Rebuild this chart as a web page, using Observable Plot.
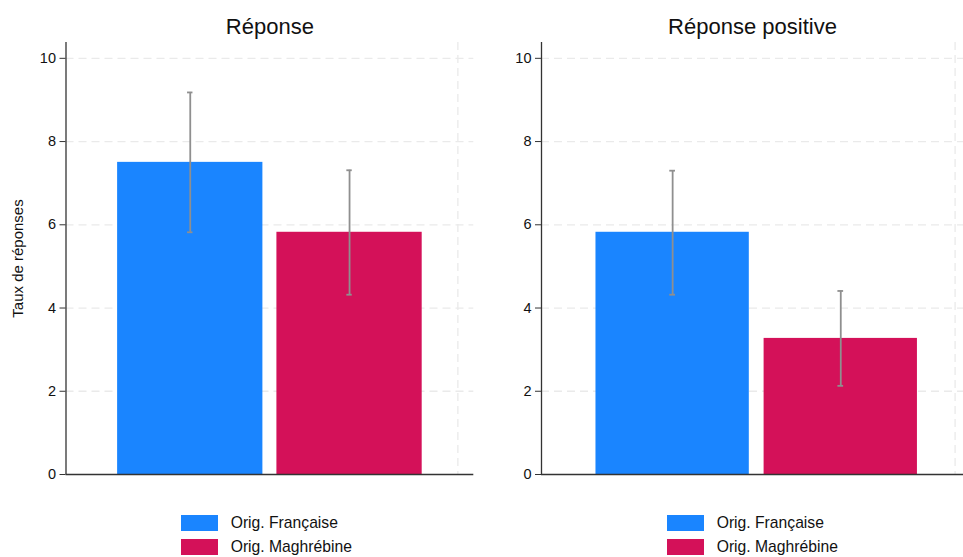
<!DOCTYPE html>
<html><head><meta charset="utf-8">
<script src="https://cdn.jsdelivr.net/npm/d3@7"></script>
<script src="https://cdn.jsdelivr.net/npm/@observablehq/plot@0.6"></script>
<style>
body{margin:0;background:#fff;font-family:"Liberation Sans",Arial,Helvetica,sans-serif;}
#wrap{position:relative;width:963px;height:557px;overflow:hidden;background:#fff;}
.panel{position:absolute;top:0;}
.legend{position:absolute;top:515px;font-size:15.7px;color:#111;}
.row{display:flex;align-items:center;height:15.7px;margin-bottom:8.8px;}
.sw{width:37px;height:15.7px;margin-right:12.7px;}
</style></head><body><div id="wrap"></div>
<script>
// ---- data ----
const panelTitles = ["Réponse", "Réponse positive"];
const groups = ["Orig. Française", "Orig. Maghrébine"];
const colors = ["#1A85FF", "#D41159"];
const meanReponse = [7.50, 5.82];
const lowReponse = [5.82, 4.32];
const highReponse = [9.18, 7.31];
const meanPositive = [5.82, 3.27];
const lowPositive = [4.32, 2.13];
const highPositive = [7.30, 4.41];
const yTicks = [0, 2, 4, 6, 8, 10];
const xGridTicks = [2.68];
const yLabel = "Taux de réponses";

const seriesByPanel = [
  {mean: meanReponse, low: lowReponse, high: highReponse},
  {mean: meanPositive, low: lowPositive, high: highPositive}
];
const layout = [
  {left: 0, width: 480, marginLeft: 65.5, marginRight: 6.7, xDomain: [0.22, 2.78], legendLeft: 181},
  {left: 480, width: 483, marginLeft: 61, marginRight: 0, xDomain: [0.22, 2.73], legendLeft: 667}
];
const yDomain = [0, 10.38];
const halfBar = 0.456, halfCap = 0.017;
const gridStyle = {stroke: "#eaeaea", strokeOpacity: 1, strokeWidth: 1.3, strokeDasharray: "8,5"};

const wrap = document.getElementById("wrap");
panelTitles.forEach((title, p) => {
  const L = layout[p], S = seriesByPanel[p];
  const data = groups.map((g, i) => ({g, pos: i + 1, mean: S.mean[i], lo: S.low[i], hi: S.high[i]}));
  const marks = [
    Plot.gridY(yTicks.filter(d => d > 0), gridStyle),
    Plot.ruleX(xGridTicks, gridStyle),
    Plot.rectY(data, {x1: d => d.pos - halfBar, x2: d => d.pos + halfBar, y1: 0, y2: "mean", fill: "g"}),
    Plot.ruleX(data, {x: "pos", y1: "lo", y2: "hi", stroke: "#8f8f8f", strokeWidth: 1.8}),
    Plot.ruleY(data, {y: "lo", x1: d => d.pos - halfCap, x2: d => d.pos + halfCap, stroke: "#8f8f8f", strokeWidth: 1.8}),
    Plot.ruleY(data, {y: "hi", x1: d => d.pos - halfCap, x2: d => d.pos + halfCap, stroke: "#8f8f8f", strokeWidth: 1.8}),
    Plot.ruleY([0], {stroke: "#333", strokeWidth: 1.3}),
    Plot.ruleX([L.xDomain[0]], {stroke: "#333", strokeWidth: 1.3}),
    Plot.axisY(yTicks, {tickSize: 6, tickPadding: 4, fontSize: 14.5, stroke: "#333", fill: "#111", label: null}),
    Plot.text([title], {frameAnchor: "top", lineAnchor: "bottom", dy: -8.5, fontSize: 22, fill: "#111"})
  ];
  if (p === 0) {
    marks.push(Plot.text([yLabel], {frameAnchor: "left", textAnchor: "middle", rotate: -90, dx: -47.5, fontSize: 15, fill: "#111"}));
  }
  const chart = Plot.plot({
    width: L.width, height: 480,
    marginLeft: L.marginLeft, marginRight: L.marginRight, marginTop: 42, marginBottom: 6,
    style: {fontFamily: '"Liberation Sans", Arial, sans-serif', background: "#fff", overflow: "visible"},
    x: {domain: L.xDomain, axis: null},
    y: {domain: yDomain},
    color: {domain: groups, range: colors},
    marks
  });
  chart.classList.add("panel");
  chart.style.left = L.left + "px";
  wrap.appendChild(chart);

  const leg = document.createElement("div");
  leg.className = "legend";
  leg.style.left = L.legendLeft + "px";
  groups.forEach((g, i) => {
    const row = document.createElement("div");
    row.className = "row";
    const sw = document.createElement("div");
    sw.className = "sw";
    sw.style.background = colors[i];
    const t = document.createElement("span");
    t.textContent = g;
    row.appendChild(sw); row.appendChild(t);
    leg.appendChild(row);
  });
  wrap.appendChild(leg);
});
</script>
</body></html>
